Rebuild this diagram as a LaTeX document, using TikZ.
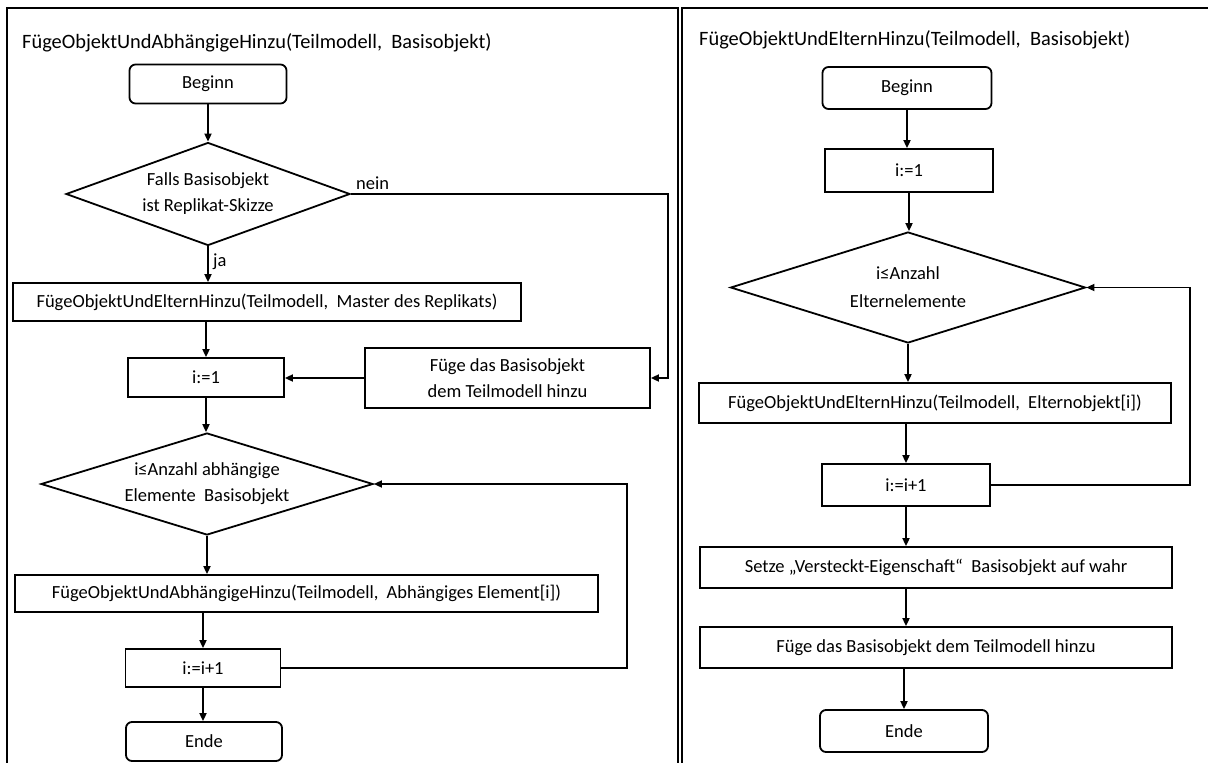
\documentclass[tikz,border=0pt]{standalone}
\usepackage{fontspec}
\setmainfont{Carlito}
\usetikzlibrary{shapes.geometric,arrows.meta}
\begin{document}
\begin{tikzpicture}[x=1pt,y=-1pt,
  box/.style={draw,line width=1.8pt,inner sep=0pt,align=center,font=\fontsize{18.5}{26}\selectfont},
  term/.style={box,rounded corners=6pt},
  dec/.style={box,diamond},
  arr/.style={line width=1.8pt,-{Triangle[length=8pt,width=7pt]}},
  lbl/.style={font=\fontsize{18.5}{22}\selectfont,inner sep=0pt},
  ttl/.style={font=\fontsize{20.4}{24}\selectfont,inner sep=0pt,anchor=west},
  frame/.style={line width=2pt}]
\useasboundingbox (0,0) rectangle (1208,763);
% frames
\coordinate (fl1) at (7,763); \coordinate (fl2) at (7,8); \coordinate (fl3) at (678,8); \coordinate (fl4) at (678,763);
\coordinate (fr1) at (682,763); \coordinate (fr2) at (682,8); \coordinate (fr3) at (1208,8);
\draw[frame] (fl1) -- (fl2) -- (fl3) -- (fl4);
\draw[frame] (fr1) -- (fr2) -- (fr3);
% left panel
\node[ttl] (t1) at (22,43) {FügeObjektUndAbhängigeHinzu(Teilmodell,\ \ Basisobjekt)};
\node[term,minimum width=157pt,minimum height=39pt] (b1) at (208,84) {Beginn};
\node[dec,aspect=2.76,minimum width=284pt,minimum height=103pt] (d1) at (208,194) {Falls Basisobjekt\\ist Replikat-Skizze};
\node[box,minimum width=508pt,minimum height=38pt] (m1) at (267,302) {FügeObjektUndElternHinzu(Teilmodell,\ \ Master des Replikats)};
\node[box,minimum width=156pt,minimum height=39pt] (i1) at (206,377.5) {i:=1};
\node[box,minimum width=285pt,minimum height=60pt] (add) at (507.5,378) {Füge das Basisobjekt\\dem Teilmodell hinzu};
\node[dec,aspect=3.25,minimum width=332pt,minimum height=102pt] (d2) at (207,484) {i≤Anzahl abhängige\\Elemente\ \ Basisobjekt};
\node[box,minimum width=583pt,minimum height=37pt] (abh) at (306.5,593.5) {FügeObjektUndAbhängigeHinzu(Teilmodell,\ \ Abhängiges Element[i])};
\node[box,minimum width=155pt,minimum height=38pt] (inc1) at (203,668) {i:=i+1};
\node[term,minimum width=156pt,minimum height=39pt] (e1) at (204,741.5) {Ende};
\node[lbl,anchor=west] (nein) at (356,183) {nein};
\node[lbl,anchor=west] (ja) at (213,262) {ja};
\coordinate (n1) at (668,194);
\coordinate (lp1) at (627,484);
\draw[arr] (b1.south) -- (b1.south |- d1.north);
\draw[arr] (d1.south) -- (d1.south |- m1.north);
\draw[arr] (i1.north |- m1.south) -- (i1.north);
\draw[arr] (d1.east) -- (n1) |- (add.east);
\draw[arr] (add.west) -- (add.west -| i1.east);
\draw[arr] (i1.south) -- (i1.south |- d2.north);
\draw[arr] (d2.south) -- (d2.south |- abh.north);
\draw[arr] (inc1.north |- abh.south) -- (inc1.north);
\draw[arr] (inc1.east) -| (lp1) -- (d2.east);
\draw[arr] (inc1.south) -- (inc1.south |- e1.north);
% right panel
\node[ttl] (t2) at (699,40) {FügeObjektUndElternHinzu(Teilmodell,\ \ Basisobjekt)};
\node[term,minimum width=169pt,minimum height=42pt] (b2) at (907,88) {Beginn};
\node[box,minimum width=168pt,minimum height=43pt] (j1) at (909,170.5) {i:=1};
\node[dec,aspect=3.2,minimum width=355pt,minimum height=111pt,font=\fontsize{18.5}{28}\selectfont] (d3) at (908,287.5) {i≤Anzahl\\Elternelemente};
\node[box,minimum width=472pt,minimum height=40pt] (p1) at (935,403) {FügeObjektUndElternHinzu(Teilmodell,\ \ Elternobjekt[i])};
\node[box,minimum width=168pt,minimum height=42pt] (inc2) at (906,485) {i:=i+1};
\node[box,minimum width=472pt,minimum height=41pt] (s1) at (936,567.5) {Setze „Versteckt-Eigenschaft“\ \ Basisobjekt auf wahr};
\node[box,minimum width=472pt,minimum height=41pt] (f2) at (936,647.5) {Füge das Basisobjekt dem Teilmodell hinzu};
\node[term,minimum width=168pt,minimum height=42pt] (e2) at (904,731) {Ende};
\coordinate (r1) at (1190,287.5);
\draw[arr] (b2.south) -- (b2.south |- j1.north);
\draw[arr] (j1.south) -- (j1.south |- d3.north);
\draw[arr] (d3.south) -- (d3.south |- p1.north);
\draw[arr] (inc2.north |- p1.south) -- (inc2.north);
\draw[arr] (inc2.east) -| (r1) -- (d3.east);
\draw[arr] (inc2.south) -- (inc2.south |- s1.north);
\draw[arr] (inc2.south |- s1.south) -- (inc2.south |- f2.north);
\draw[arr] (e2.north |- f2.south) -- (e2.north);
\end{tikzpicture}
\end{document}
